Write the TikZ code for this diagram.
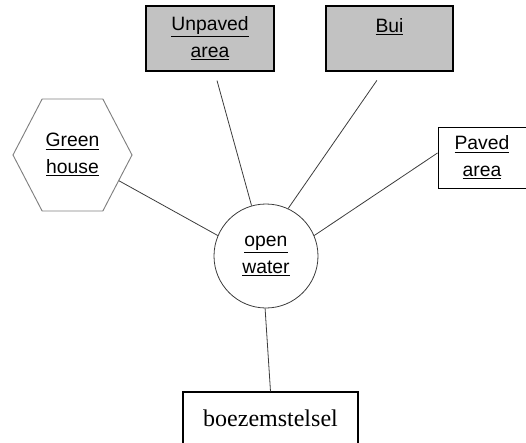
\documentclass[tikz,border=0pt]{standalone}
\usepackage{fontspec}
\newfontfamily\arialfont{Liberation Sans}
\newfontfamily\timesfont{Liberation Serif}
\usetikzlibrary{positioning}
\usetikzlibrary{shapes.symbols}
\definecolor{boxgray}{RGB}{194,194,194}
\definecolor{linegray}{RGB}{60,60,60}
\newcommand{\ul}[1]{\underline{#1}}

\begin{document}
\begin{tikzpicture}[x=0.75pt,y=0.75pt,yscale=-1,xscale=1,
  lbl/.style={font=\arialfont\fontsize{14.5}{20}\selectfont,align=center,inner sep=0pt},
  areabox/.style={lbl,draw=black,line width=0.9pt,fill=boxgray},
  plainbox/.style={lbl,draw=black,line width=0.7pt},
  link/.style={draw=linegray,line width=0.6pt}]
%set diagram left start at 0, and has height of 443
\useasboundingbox (0,0) rectangle (526,443);
\clip (0,0) rectangle (526,443);

%Shape: Rectangle [unpaved]
\node (unpaved) at (210,38.5) [areabox,minimum width=96pt,minimum height=48.75pt] {\ul{Unpaved}\\\ul{area}};
%Shape: Rectangle [bui]
\node (bui) at (389.5,38.5) [areabox,minimum width=95.25pt,minimum height=48.75pt] {\ul{Bui}\\\mbox{}};
%Shape: Rectangle [paved]
\node (paved) at (482,157.5) [plainbox,minimum width=66pt,minimum height=45.75pt] {\ul{Paved}\\\ul{area}};
%Shape: Hexagon [greenhouse]
\node (greenhouse) at (72.5,155) [plainbox,draw=gray,signal,signal to=west and east,signal pointer angle=125,minimum width=89.25pt,minimum height=84pt] {\ul{Green}\\\ul{house}};
%Shape: Circle [openwater]
\node (openwater) at (266,256) [plainbox,draw=linegray,line width=0.6pt,circle,minimum size=78pt] {\ul{open}\\\ul{water}};
%Shape: Rectangle [boezem]
\node (boezem) at (270.5,418) [draw=black,line width=0.9pt,minimum width=131.25pt,minimum height=39pt,inner sep=0pt,font=\timesfont\fontsize{18}{20}\selectfont] {boezemstelsel};

%Straight Lines
\draw [link,shorten >=7pt] (openwater.106) -- ([xshift=3.4pt]unpaved.south);
\draw [link,shorten >=8pt] (openwater.65) -- ([xshift=-4.9pt]bui.south);
\draw [link] (openwater.157) -- (greenhouse);
\draw [link] (openwater.23) -- ([yshift=-3.4pt]paved.west);
\draw [link] (openwater.269) -- (boezem.north);

\end{tikzpicture}
\end{document}
